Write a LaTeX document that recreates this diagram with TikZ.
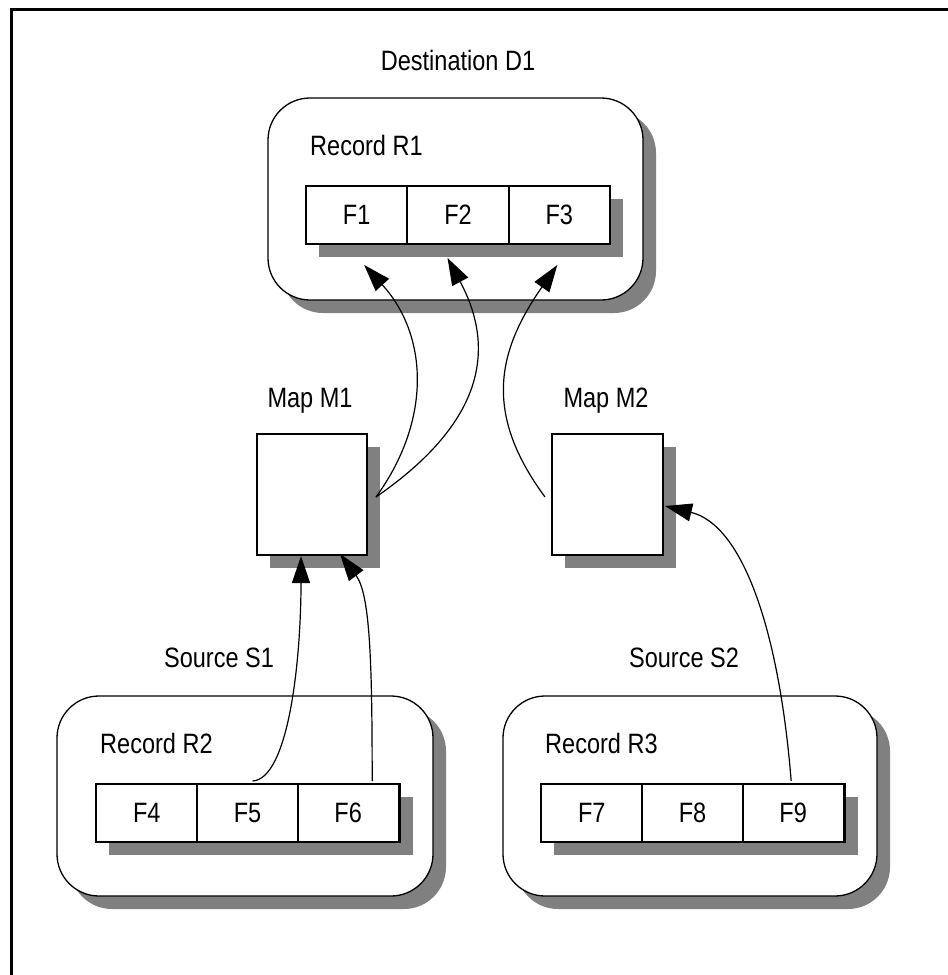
\documentclass[tikz,border=0pt]{standalone}
\usepackage{fontspec}
\setmainfont{Liberation Sans}[FakeStretch=0.84]
\usetikzlibrary{arrows.meta,shadows,calc}
\definecolor{shgray}{HTML}{808080}
\tikzset{
  shade13/.style={drop shadow={shadow xshift=13pt, shadow yshift=-13pt, opacity=1, fill=shgray}},
  groupbox/.style={draw, line width=1.3pt, fill=white, rounded corners=42pt, minimum height=200pt, inner sep=0pt, shade13},
  rowbox/.style={draw, line width=2pt, fill=white, minimum width=304pt, minimum height=58pt, inner sep=0pt, shade13},
  fieldbox/.style={draw, line width=2pt, fill=white, minimum width=101.33pt, minimum height=58pt, inner sep=0pt},
  mapbox/.style={draw, line width=2pt, fill=white, minimum height=121pt, inner sep=0pt, shade13},
  lbl/.style={inner sep=0pt},
  flow/.style={line width=1.2pt, -{Triangle[length=27pt,width=18pt]}},
}
\begin{document}
\begin{tikzpicture}[x=1pt,y=-1pt,font=\fontsize{28}{33}\selectfont]
\useasboundingbox (0,0) rectangle (948,975);
\draw[line width=3pt] (11.5,975) -- (11.5,9.7) -- (948,9.7);

% destination
\node[groupbox, minimum width=375pt, minimum height=202pt] (d1) at (455.5,199) {};
\node[rowbox] (r1row) at (458,215) {};
\node[fieldbox] (f1) at (356.67,215) {F1};
\node[fieldbox] (f2) at (458,215) {F2};
\node[fieldbox] (f3) at (559.33,215) {F3};
\node[lbl, anchor=base] (lbld1) at (458,70) {Destination D1};
\node[lbl, anchor=base west] (lblr1) at (310,155) {Record R1};

% maps
\node[mapbox, minimum width=110pt] (m1) at (312,494.5) {};
\node[mapbox, minimum width=111pt] (m2) at (607.5,494.5) {};
\node[lbl, anchor=base] (lblm1) at (310,407) {Map M1};
\node[lbl, anchor=base] (lblm2) at (606,407) {Map M2};

% source S1
\node[groupbox, minimum width=376pt] (r2box) at (245,796) {};
\node[rowbox] (r2row) at (247.5,813) {};
\node[fieldbox] (f4) at (146.83,813) {F4};
\node[fieldbox] (f5) at (247.5,813) {F5};
\node[fieldbox] (f6) at (348.17,813) {F6};
\node[lbl, anchor=base] (lbls1) at (219,667) {Source S1};
\node[lbl, anchor=base west] (lblr2) at (100,753) {Record R2};

% source S2
\node[groupbox, minimum width=374pt] (r3box) at (690,796) {};
\node[rowbox] (r3row) at (692.5,813) {};
\node[fieldbox] (f7) at (591.83,813) {F7};
\node[fieldbox] (f8) at (692.5,813) {F8};
\node[fieldbox] (f9) at (793.17,813) {F9};
\node[lbl, anchor=base] (lbls2) at (684,667) {Source S2};
\node[lbl, anchor=base west] (lblr3) at (545,753) {Record R3};

% connectors
\draw[flow] ($(m1.east)+(8,2.5)$) .. controls +(56,-77) and +(64,70) .. ($(f1.south)+(7.5,20)$);
\draw[flow] ($(m1.east)+(8,2.5)$) .. controls +(78,-54) and +(61,114) .. ($(f2.south)+(-10.5,13)$);
\draw[flow] ($(m2.west)+(-6,2.5)$) .. controls +(-62,-84) and +(-60,86) .. ($(f3.south)+(-2,20)$);
\draw[flow] ($(f5.north)+(5,-2)$) .. controls +(36,-2) and +(0,105) .. ($(m1.south)+(-11,0)$);
\draw[flow] ($(f6.north)+(24,-2)$) .. controls +(0,-120) and +(30,40) .. ($(m1.south)+(28,-2)$);
\draw[flow] ($(f9.north)+(-2,-2)$) .. controls +(-12,-150) and +(78,19) .. ($(m2.east)+(1,11.5)$);
\end{tikzpicture}
\end{document}
